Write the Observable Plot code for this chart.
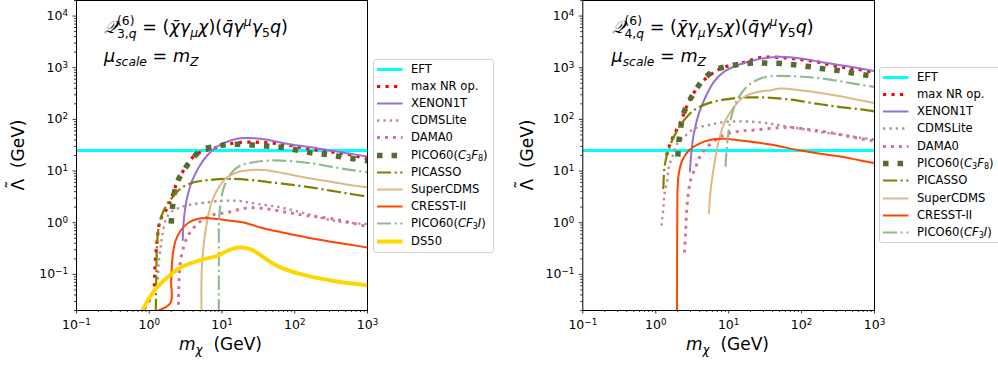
<!DOCTYPE html>
<html>
<head>
<meta charset="utf-8">
<script src="https://cdn.jsdelivr.net/npm/d3@7"></script>
<script src="https://cdn.jsdelivr.net/npm/@observablehq/plot@0.6"></script>
<style>
  html, body { margin: 0; padding: 0; background: #fff; }
  #root { position: relative; width: 998px; height: 367px; overflow: hidden; font-family: "DejaVu Sans", sans-serif; color: #000; }
  .abs { position: absolute; white-space: nowrap; }
  .lbl { font-size: 17px; line-height: 20px; }
  .ann { font-size: 17.6px; line-height: 20px; }
  .m { font-style: italic; }
  .sub { font-size: 70%; vertical-align: -0.3em; line-height: 0; }
  .sup { font-size: 70%; vertical-align: 0.55em; line-height: 0; }
  .stack { display: inline-block; font-size: 70%; line-height: 1.05; vertical-align: -0.38em; }
  .stack span { display: block; }
  .tilde { position: relative; display: inline-block; }
  .tilde .acc { position: absolute; left: 0; right: 0; top: -0.32em; text-align: center; }
  .legend { position: absolute; border: 1px solid #d0d0d0; border-radius: 3px; background: rgba(255,255,255,0.85); box-sizing: border-box; }
  .legend .row { position: absolute; left: 0; height: 17px; font-size: 11.6px; line-height: 17px; white-space: nowrap; }
  .legend svg { position: absolute; left: 3px; top: 0; }
  .legend .txt { position: absolute; left: 37px; top: 0; }
  .legend .txt sub { font-size: 70%; vertical-align: -0.25em; line-height: 0; }
</style>
</head>
<body>
<div id="root"></div>
<script>
// ---------- axis ticks ----------
const xMajor = [0.1, 1, 10, 100, 1000];
const yMajor = [0.1, 1, 10, 100, 1000, 10000];
const xDomain = [0.1, 1000];
const yDomain = [0.02, 20000];

// ---------- series (legend order) ----------
const seriesNames = ["EFT", "max NR op.", "XENON1T", "CDMSLite", "DAMA0", "PICO60(C3F8)", "PICASSO", "SuperCDMS", "CRESST-II", "PICO60(CF3I)", "DS50"];
const seriesLabelsHtml = ["EFT", "max NR op.", "XENON1T", "CDMSLite", "DAMA0",
  "PICO60(<i>C</i><sub>3</sub><i>F</i><sub>8</sub>)", "PICASSO", "SuperCDMS", "CRESST-II",
  "PICO60(<i>CF</i><sub>3</sub><i>I</i>)", "DS50"];

// ---------- left panel: Q3,q ----------
const L_EFT = [[0.1, 25], [1000, 25]];
const L_maxNR = [[0.85, 0.021], [0.887, 0.0244], [1.04, 0.0355], [1.16, 0.0516], [1.18, 0.077], [1.19, 0.117], [1.26, 0.357], [1.31, 0.60], [1.37, 0.94], [1.51, 1.37], [1.77, 1.93], [1.96, 2.67], [2.42, 6.06], [3.15, 11.9], [3.89, 18.0], [5.06, 23.2], [6.59, 25.8], [8.59, 29.0], [11.8, 32.7], [16.2, 35.3], [27.4, 36.2], [49, 34.7], [87.5, 31.3], [156, 27.0], [279, 23.9], [499, 21.6], [1000, 17.3]];
const L_XENON1T = [[2.89, 0.447], [2.98, 1.09], [3.32, 3.10], [3.89, 6.54], [4.80, 11.9], [6.26, 20.0], [8.59, 29.9], [13.1, 39.1], [19.9, 43.4], [33.8, 42.3], [46.4, 39.1], [87.5, 32.7], [165, 29.0], [310, 25.0], [584, 21.6], [1000, 19.1]];
const L_CDMSLite = [[1.32, 0.08], [1.34, 0.146], [1.43, 0.33], [1.51, 0.56], [1.67, 1.09], [1.96, 1.58], [2.55, 1.93], [3.69, 2.24], [6.26, 2.48], [10.6, 2.67], [18.0, 2.62], [30.5, 2.31], [63.7, 1.98], [148, 1.48], [344, 1.09], [1000, 0.94]];
const L_DAMA0 = [[2.50, 0.018], [2.52, 0.03], [2.55, 0.055], [2.69, 0.183], [3.32, 0.52], [4.56, 0.94], [6.95, 1.37], [11.8, 1.58], [22.2, 1.93], [41.8, 1.85], [78.7, 1.58], [148, 1.37], [344, 1.18], [890, 0.875], [1000, 0.85]];
const L_PICO_C3F8 = [[2.00, 0.96], [2.07, 1.77], [2.18, 3.34], [2.42, 6.06], [2.98, 10.2], [3.89, 17.3], [5.35, 25.8], [8.14, 29.9], [12.7, 32.7], [19.9, 32.7], [32.0, 31.3], [47.5, 29.9], [74.6, 28.2], [114, 25.0], [177, 22.2], [273, 20.9], [416, 19.1], [648, 17.3], [1000, 15.8]];
const L_PICASSO = [[1.23, 0.018], [1.25, 0.1], [1.28, 0.386], [1.35, 0.81], [1.51, 1.48], [1.77, 2.31], [2.18, 3.34], [2.84, 4.84], [4.10, 6.06], [6.95, 6.75], [13.1, 7.06], [30.5, 6.54], [46.4, 6.06], [87.5, 5.47], [165, 4.84], [310, 4.18], [584, 3.61], [1000, 3.2]];
const L_SuperCDMS = [[5.23, 0.018], [5.26, 0.117], [5.62, 0.386], [6.26, 1.09], [7.33, 2.67], [9.04, 4.84], [11.8, 7.58], [16.2, 9.48], [24.6, 10.5], [37.6, 10.5], [70.7, 9.06], [133, 7.58], [251, 6.54], [472, 5.64], [1000, 4.84]];
const L_CRESST = [[1.22, 0.019], [1.96, 0.0283], [2.00, 0.0748], [2.11, 0.247], [2.30, 0.447], [2.69, 0.70], [3.50, 1.01], [4.56, 1.18], [6.26, 1.23], [8.59, 1.18], [13.1, 1.09], [22.2, 0.97], [33.8, 0.81], [46.4, 0.72], [87.5, 0.60], [165, 0.50], [310, 0.43], [584, 0.374], [1000, 0.33]];
const L_CF3I = [[9.04, 0.018], [9.06, 0.3], [9.1, 1.09], [9.53, 2.31], [10.6, 4.84], [13.1, 8.83], [18.0, 12.8], [27.4, 14.8], [46.4, 16.0], [87.5, 15.6], [165, 14.2], [310, 12.2], [584, 10.5], [1000, 9.48]];
const L_DS50 = [[0.80, 0.019], [0.84, 0.0227], [1.16, 0.0479], [1.77, 0.0867], [2.69, 0.136], [5.06, 0.189], [8.59, 0.229], [11.8, 0.286], [17.0, 0.331], [24.6, 0.308], [37.6, 0.212], [57.4, 0.146], [120, 0.101], [344, 0.0748], [1000, 0.0617]];

// ---------- right panel: Q4,q ----------
const R_EFT = [[0.1, 25], [1000, 25]];
const R_maxNR = [[1.41, 20], [1.51, 29.0], [1.77, 48.9], [2.19, 88.7], [2.70, 187], [3.52, 366], [4.57, 572], [6.98, 894], [9.57, 1069], [15.4, 1240], [27.4, 1578], [51.5, 1578], [96.9, 1443], [164, 1296], [225, 1170], [380, 1009], [522, 965], [1000, 810]];
const R_XENON1T = [[2.94, 9.48], [3.07, 21.6], [3.33, 52.7], [3.90, 129], [4.82, 271], [6.27, 530], [8.59, 829], [13.1, 1119], [22.2, 1399], [37.6, 1578], [51.5, 1622], [96.9, 1509], [182, 1296], [343, 1119], [644, 965], [1000, 860]];
const R_CDMSLite = [[1.20, 0.875], [1.27, 1.87], [1.32, 3.61], [1.44, 6.54], [1.51, 11.9], [1.68, 18.5], [1.97, 33.7], [2.43, 45.3], [3.33, 65.9], [5.09, 76.5], [8.59, 88.7], [14.6, 91.5], [24.7, 88.7], [37.6, 82.5], [51.5, 76.5], [96.9, 65.9], [182, 56.7], [343, 51.1], [644, 44.1], [1000, 41]];
const R_DAMA0 = [[2.48, 0.265], [2.56, 0.60], [2.64, 1.48], [2.79, 3.61], [3.00, 6.54], [3.52, 11.9], [4.12, 20.0], [5.09, 29.0], [6.98, 42.3], [9.57, 52.7], [14.6, 59.3], [24.7, 63.1], [48.9, 69.0], [78.4, 69.0], [133, 63.1], [225, 56.7], [380, 48.9], [644, 42.3], [1000, 38]];
const R_PICO_C3F8 = [[2.01, 19.1], [2.07, 36.2], [2.19, 65.9], [2.38, 125], [2.84, 217], [3.44, 350], [4.43, 572], [6.41, 894], [9.75, 1069], [23.4, 1240], [35.6, 1223], [56.1, 1205], [87.3, 1119], [136, 1037], [207, 950], [319, 880], [496, 793], [779, 715], [1000, 680]];
const R_PICASSO = [[1.27, 4.51], [1.32, 11.9], [1.44, 21.6], [1.68, 39.1], [1.97, 61.1], [2.43, 95.7], [3.33, 150], [5.09, 202], [8.59, 241], [14.6, 264], [33.8, 264], [70.6, 241], [182, 196], [343, 173], [644, 156], [1000, 143]];
const R_SuperCDMS = [[5.35, 1.48], [5.65, 4.18], [6.27, 11.9], [7.34, 39.1], [9.06, 95.7], [11.8, 173], [16.2, 271], [24.7, 339], [37.6, 366], [51.5, 395], [96.9, 366], [182, 324], [343, 280], [581, 241], [1000, 207]];
const R_CRESST = [[1.96, 0.018], [1.965, 0.3], [1.98, 2], [1.99, 4.18], [2.07, 8.83], [2.31, 16.0], [2.84, 25.0], [3.90, 33.7], [5.65, 40.4], [8.59, 42.3], [14.6, 39.1], [37.6, 32.7], [51.5, 29.9], [96.9, 25.0], [182, 21.6], [343, 19.1], [644, 16.0], [1000, 14.2]];
const R_CF3I = [[9.06, 12.2], [9.36, 25], [9.75, 45.3], [10.6, 95.7], [12.4, 202], [15.4, 339], [20.0, 493], [27.4, 617], [37.6, 684], [78.4, 684], [147, 645], [277, 572], [522, 493], [1000, 424]];

const leftSeries = [L_EFT, L_maxNR, L_XENON1T, L_CDMSLite, L_DAMA0, L_PICO_C3F8, L_PICASSO, L_SuperCDMS, L_CRESST, L_CF3I, L_DS50];
const rightSeries = [R_EFT, R_maxNR, R_XENON1T, R_CDMSLite, R_DAMA0, R_PICO_C3F8, R_PICASSO, R_SuperCDMS, R_CRESST, R_CF3I];

// ---------- styles ----------
const colors = ["#00ffff", "#ff0000", "#9370db", "#bc8f8f", "#db7093", "#556b2f", "#808000", "#deb887", "#ff4500", "#8fbc8f", "#ffd700"];
const widths = [3, 3.2, 2, 2.4, 3, 5.5, 2.2, 2, 2, 2.2, 4];
const dotted = w => `${w},${(1.65 * w).toFixed(2)}`;
const dashdot = w => `${6.4 * w},${1.6 * w},${w},${1.6 * w}`;
const dashes = [null, dotted(3.2), null, dotted(2.4), dotted(3), dotted(5.5), dashdot(2.2), null, null, dashdot(2.2), null];

const supMinus = s => s.replace("-", "\u2212");
const expFmt = d => "10^" + supMinus(String(Math.round(Math.log10(d))));

function minorTicks(lo, hi) {
  const out = [];
  for (let e = -3; e <= 5; e++) for (let k = 2; k <= 9; k++) {
    const v = k * Math.pow(10, e);
    if (v >= lo && v <= hi) out.push(v);
  }
  return out;
}
const xMinor = minorTicks(xDomain[0], xDomain[1]);
const yMinor = minorTicks(yDomain[0], yDomain[1]);

function makePanel(series, width, marginLeft, marginRight) {
  const marks = [];
  series.forEach((s, i) => {
    marks.push(Plot.line(s, {
      x: d => d[0], y: d => d[1],
      stroke: colors[i], strokeWidth: widths[i],
      strokeDasharray: dashes[i] || undefined,
      strokeLinecap: "butt", strokeLinejoin: "round",
      curve: "catmull-rom", clip: true
    }));
  });
  marks.push(Plot.frame({stroke: "#000", strokeWidth: 1}));
  marks.push(Plot.axisX({ticks: xMinor, tickSize: 2, tickFormat: () => "", label: null, strokeWidth: 0.8}));
  marks.push(Plot.axisY({ticks: yMinor, tickSize: 2, tickFormat: () => "", label: null, strokeWidth: 0.8}));
  marks.push(Plot.axisX({ticks: xMajor, tickSize: 3.5, tickPadding: 6, tickFormat: expFmt, label: null, fontSize: 12.5, strokeWidth: 0.8}));
  marks.push(Plot.axisY({ticks: yMajor, tickSize: 3.5, tickPadding: 5, tickFormat: expFmt, label: null, fontSize: 12.5, strokeWidth: 0.8}));
  const svg = Plot.plot({
    width, height: 367,
    marginLeft, marginRight, marginTop: 0, marginBottom: 57,
    x: {type: "log", domain: xDomain},
    y: {type: "log", domain: yDomain},
    style: {fontFamily: "DejaVu Sans", fontSize: "12.5px", color: "#000", background: "transparent", overflow: "visible"},
    marks
  });
  // render exponent as superscript
  d3.select(svg).selectAll("text").each(function () {
    const t = this.textContent;
    const m = /^10\^(.+)$/.exec(t);
    if (m) {
      const sel = d3.select(this);
      sel.text("10");
      sel.append("tspan").attr("dy", "-0.45em").attr("font-size", "70%").text(m[1]);
    }
  });
  return svg;
}

const root = document.getElementById("root");

function place(el, left, top) {
  el.style.position = "absolute";
  el.style.left = left + "px";
  el.style.top = top + "px";
  root.appendChild(el);
}

place(makePanel(leftSeries, 370, 76, 3), 0, 0);
place(makePanel(rightSeries, 376, 82.3, 2), 500, 0);

// ---------- text annotations ----------
function addHtml(html, left, top, cls, extraStyle) {
  const d = document.createElement("div");
  d.className = "abs " + (cls || "");
  d.innerHTML = html;
  d.style.left = left + "px";
  d.style.top = top + "px";
  if (extraStyle) Object.assign(d.style, extraStyle);
  root.appendChild(d);
  return d;
}

const eqLeft = '<span class="m">𝒬</span><span class="stack"><span>(6)</span><span>3,<i>q</i></span></span> = (<span class="m">χ̄γ</span><span class="sub m">μ</span><span class="m">χ</span>)(<span class="m">q̄γ</span><span class="sup m">μ</span><span class="m">γ</span><span class="sub">5</span><span class="m">q</span>)';
const eqRight = '<span class="m">𝒬</span><span class="stack"><span>(6)</span><span>4,<i>q</i></span></span> = (<span class="m">χ̄γ</span><span class="sub m">μ</span><span class="m">γ</span><span class="sub">5</span><span class="m">χ</span>)(<span class="m">q̄γ</span><span class="sup m">μ</span><span class="m">γ</span><span class="sub">5</span><span class="m">q</span>)';
const muScale = '<span class="m">μ</span><span class="sub m">scale</span> = <span class="m">m</span><span class="sub m">Z</span>';

addHtml(eqLeft, 104, 15, "ann");
addHtml(muScale, 104, 46, "ann");
addHtml(eqRight, 611.5, 15, "ann");
addHtml(muScale, 611.5, 46, "ann");

const xLabel = '<span class="m">m</span><span class="sub m">χ</span>&nbsp;&nbsp;(GeV)';
const yLabel = '<span class="tilde">Λ<span class="acc">˜</span></span>&nbsp;&nbsp;(GeV)';
addHtml(xLabel, 220.5, 334, "lbl", {transform: "translateX(-50%)"});
addHtml(xLabel, 727.5, 334, "lbl", {transform: "translateX(-50%)"});
addHtml(yLabel, 18, 155, "lbl", {transform: "translate(-50%,-50%) rotate(-90deg)"});
addHtml(yLabel, 527, 155, "lbl", {transform: "translate(-50%,-50%) rotate(-90deg)"});

// ---------- legends ----------
function legend(n, left, top, width, height, spacing) {
  const box = document.createElement("div");
  box.className = "legend";
  Object.assign(box.style, {left: left + "px", top: top + "px", width: width + "px", height: height + "px"});
  for (let i = 0; i < n; i++) {
    const row = document.createElement("div");
    row.className = "row";
    row.style.top = (0.5 + spacing * i) + "px";
    row.style.width = (width - 2) + "px";
    const dash = dashes[i] ? `stroke-dasharray="${dashes[i]}"` : "";
    row.innerHTML = `<svg width="28" height="17"><line x1="0" x2="25.5" y1="8.5" y2="8.5" stroke="${colors[i]}" stroke-width="${widths[i]}" ${dash}/></svg><span class="txt">${seriesLabelsHtml[i]}</span>`;
    box.appendChild(row);
  }
  root.appendChild(box);
}
legend(11, 373, 59, 121, 194, 17.2);
legend(10, 879, 67, 130, 176, 17.3);
</script>
</body>
</html>
